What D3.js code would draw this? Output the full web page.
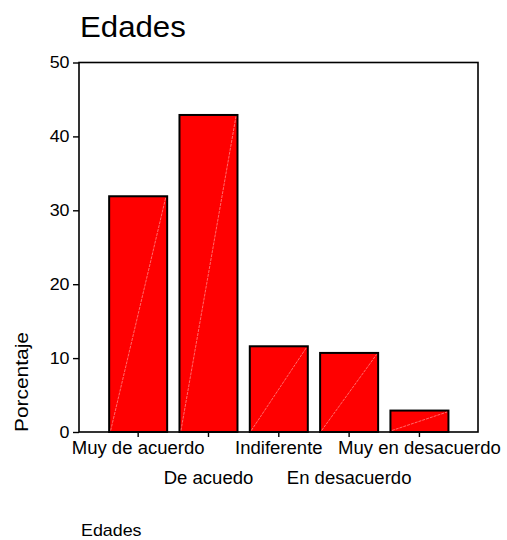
<!DOCTYPE html>
<html>
<head>
<meta charset="utf-8">
<script src="https://cdn.jsdelivr.net/npm/d3@7"></script>
<style>
  html, body { margin: 0; padding: 0; background: #fff; }
  svg { display: block; }
  text { font-family: "Liberation Sans", Arial, sans-serif; fill: #000; }
</style>
</head>
<body>
<script>
const categories = ["Muy de acuerdo", "De acuedo", "Indiferente", "En desacuerdo", "Muy en desacuerdo"];
const values = [31.9, 42.9, 11.6, 10.7, 2.9];
const yTicks = [0, 10, 20, 30, 40, 50];
const title = "Edades";
const yLabel = "Porcentaje";
const caption = "Edades";

const W = 507, H = 540;
const frame = { left: 79, right: 478, top: 62.5, bottom: 432 };

const svg = d3.select("body").append("svg").attr("width", W).attr("height", H);

const x = d3.scaleBand().domain(categories).range([103, 454.6]).paddingInner(0.175).paddingOuter(0.0875);
const y = d3.scaleLinear().domain([0, 50]).range([frame.bottom, frame.top]);

// bars
const bars = svg.append("g");
bars.selectAll("rect").data(values).join("rect")
  .attr("x", (d, i) => x(categories[i]))
  .attr("y", d => y(d))
  .attr("width", x.bandwidth())
  .attr("height", d => y(0) - y(d))
  .attr("fill", "#ff0000")
  .attr("stroke", "#000")
  .attr("stroke-width", 2);
bars.selectAll("line").data(values).join("line")
  .attr("x1", (d, i) => x(categories[i]) + 1.5)
  .attr("y1", y(0) - 1.5)
  .attr("x2", (d, i) => x(categories[i]) + x.bandwidth() - 1.5)
  .attr("y2", d => y(d) + 1.5)
  .attr("stroke", "#ff9a9a")
  .attr("stroke-width", 0.7)
  .attr("stroke-dasharray", "3,1");

// frame
svg.append("rect")
  .attr("x", frame.left).attr("y", frame.top)
  .attr("width", frame.right - frame.left).attr("height", frame.bottom - frame.top)
  .attr("fill", "none").attr("stroke", "#000").attr("stroke-width", 1.6);

// y axis
const yAxis = d3.axisLeft(y).tickValues(yTicks).tickSize(6).tickPadding(3).tickFormat(d3.format("d"));
const gy = svg.append("g").attr("transform", `translate(${frame.left},0)`).call(yAxis);
gy.select(".domain").remove();
gy.selectAll(".tick line").attr("stroke", "#000").attr("stroke-width", 1.4);
gy.selectAll(".tick text").attr("font-size", 17).attr("font-family", "Liberation Sans, Arial, sans-serif").attr("fill", "#000")
  .attr("transform", "scale(1.05,1)");

// x axis
const xAxis = d3.axisBottom(x).tickSize(5).tickPadding(0);
const gx = svg.append("g").attr("transform", `translate(0,${frame.bottom})`).call(xAxis);
gx.select(".domain").remove();
gx.selectAll(".tick line").attr("stroke", "#000").attr("stroke-width", 1.4);
gx.selectAll(".tick text")
  .attr("font-size", 17.5)
  .attr("font-family", "Liberation Sans, Arial, sans-serif")
  .attr("fill", "#000")
  .attr("dy", null)
  .attr("y", (d, i) => i % 2 === 0 ? 22 : 52)
  .attr("transform", "scale(1.06,1)");

// title
svg.append("text").attr("transform", "translate(80,37) scale(1.04,1)").attr("font-size", 30).text(title);

// y label
svg.append("text")
  .attr("transform", "translate(28,432) rotate(-90) scale(1.1,1)")
  .attr("font-size", 19)
  .text(yLabel);

// caption
svg.append("text").attr("transform", "translate(81,535.5) scale(1.05,1)").attr("font-size", 17).text(caption);
</script>
</body>
</html>
